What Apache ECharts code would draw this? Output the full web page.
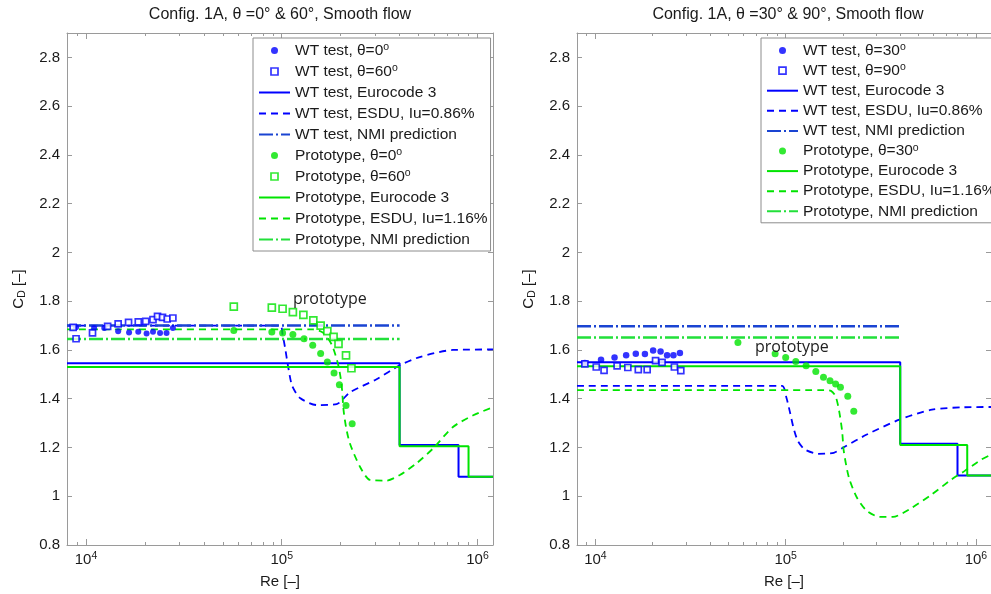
<!DOCTYPE html>
<html>
<head>
<meta charset="utf-8">
<script src="https://cdn.jsdelivr.net/npm/echarts@6/dist/echarts.min.js"></script>
<style>
  html, body { margin: 0; padding: 0; background: #fff; }
  #chart { width: 991px; height: 594px; }
</style>
</head>
<body>
<div id="chart"></div>
<script>
// ---- left panel: theta = 0 & 60 deg ----
const wtCirc0 = [[8.9e3,1.693],[1.10e4,1.690],[1.24e4,1.690],[1.46e4,1.677],[1.66e4,1.672],[1.85e4,1.675],[2.04e4,1.667],[2.20e4,1.675],[2.39e4,1.670],[2.58e4,1.670],[2.78e4,1.690]];
const wtSq60 = [[8.6e3,1.693],[8.9e3,1.646],[1.08e4,1.670],[1.29e4,1.697],[1.46e4,1.707],[1.65e4,1.713],[1.85e4,1.715],[2.02e4,1.717],[2.20e4,1.724],[2.32e4,1.738],[2.46e4,1.734],[2.60e4,1.727],[2.78e4,1.731]];
const wtEuroL = [[8e3,1.545],[4e5,1.545],[4e5,1.21],[8e5,1.21],[8e5,1.08],[1.2e6,1.08]];
const wtEsduL = [[8e3,1.70],[9.8e4,1.70],[1.01e5,1.663],[1.04e5,1.609],[1.08e5,1.528],[1.13e5,1.453],[1.24e5,1.403],[1.51e5,1.374],[1.91e5,1.378],[2.23e5,1.426],[3.05e5,1.48],[4.01e5,1.537],[5.07e5,1.571],[7.48e5,1.600],[1.2e6,1.602]];
const wtNmiL = [[8e3,1.70],[4e5,1.70]];
const prCirc0 = [[5.69e4,1.680],[8.9e4,1.674],[1.01e5,1.670],[1.14e5,1.663],[1.30e5,1.646],[1.44e5,1.619],[1.58e5,1.585],[1.71e5,1.551],[1.85e5,1.505],[1.97e5,1.457],[2.13e5,1.372],[2.29e5,1.297]];
const prSq60 = [[5.69e4,1.778],[8.9e4,1.774],[1.01e5,1.769],[1.14e5,1.755],[1.29e5,1.744],[1.45e5,1.721],[1.58e5,1.700],[1.71e5,1.677],[1.84e5,1.654],[1.95e5,1.625],[2.13e5,1.578],[2.27e5,1.525]];
const prEuroL = [[8e3,1.53],[4e5,1.53],[4e5,1.205],[9e5,1.205],[9e5,1.08],[1.2e6,1.08]];
const prEsduL = [[8e3,1.684],[1.45e5,1.684],[1.63e5,1.670],[1.80e5,1.622],[1.94e5,1.541],[2.02e5,1.460],[2.07e5,1.352],[2.13e5,1.284],[2.23e5,1.216],[2.51e5,1.121],[2.82e5,1.067],[3.43e5,1.064],[4.01e5,1.087],[4.88e5,1.135],[5.93e5,1.196],[7.49e5,1.284],[9.46e5,1.331],[1.2e6,1.365]];
const prNmiL = [[8e3,1.645],[4e5,1.645]];

// ---- right panel: theta = 30 & 90 deg ----
const wtCirc30 = [[8.8e3,1.546],[1.07e4,1.560],[1.26e4,1.569],[1.45e4,1.578],[1.63e4,1.584],[1.82e4,1.583],[2.01e4,1.598],[2.20e4,1.594],[2.38e4,1.578],[2.57e4,1.578],[2.78e4,1.587]];
const wtSq90 = [[8.8e3,1.543],[1.01e4,1.530],[1.11e4,1.516],[1.30e4,1.535],[1.48e4,1.528],[1.68e4,1.519],[1.87e4,1.519],[2.07e4,1.556],[2.24e4,1.549],[2.60e4,1.530],[2.81e4,1.515]];
const wtEuroR = [[8e3,1.55],[4e5,1.55],[4e5,1.215],[8e5,1.215],[8e5,1.085],[1.2e6,1.085]];
const wtEsduR = [[8e3,1.453],[9.55e4,1.453],[1.01e5,1.403],[1.05e5,1.349],[1.10e5,1.280],[1.16e5,1.226],[1.26e5,1.192],[1.48e5,1.174],[1.79e5,1.178],[2.02e5,1.201],[2.67e5,1.253],[3.96e5,1.314],[5.87e5,1.355],[8.7e5,1.365],[1.2e6,1.366]];
const wtNmiR = [[8e3,1.697],[4e5,1.697]];
const prCirc30 = [[5.61e4,1.631],[8.8e4,1.584],[1.0e5,1.569],[1.13e5,1.553],[1.28e5,1.535],[1.44e5,1.512],[1.58e5,1.488],[1.71e5,1.474],[1.83e5,1.460],[1.94e5,1.447],[2.12e5,1.410],[2.28e5,1.349]];
const prEuroR = [[8e3,1.533],[4e5,1.533],[4e5,1.21],[9e5,1.21],[9e5,1.085],[1.2e6,1.085]];
const prEsduR = [[8e3,1.435],[1.6e5,1.435],[1.73e5,1.432],[1.83e5,1.410],[1.91e5,1.349],[1.98e5,1.267],[2.02e5,1.185],[2.15e5,1.076],[2.37e5,0.994],[2.67e5,0.940],[3.12e5,0.915],[3.66e5,0.915],[4.46e5,0.946],[5.87e5,1.008],[7.44e5,1.069],[8.7e5,1.103],[1.07e6,1.151],[1.2e6,1.17]];
const prNmiR = [[8e3,1.651],[4e5,1.651]];

// axis ticks
const majorRe = [1e4, 1e5, 1e6];
const minorRe = [8e3, 9e3, 2e4, 3e4, 4e4, 5e4, 6e4, 7e4, 8e4, 9e4, 2e5, 3e5, 4e5, 5e5, 6e5, 7e5, 8e5, 9e5];
const cdTicks = [0.8, 1, 1.2, 1.4, 1.6, 1.8, 2, 2.2, 2.4, 2.6, 2.8];

const FONT = '"Liberation Sans", Arial, Helvetica, sans-serif';
const BLUE = '#0000ff', GREEN = '#00e400', NMI_BLUE = '#1a44d2', NMI_GREEN = '#22e03a';
const AXIS = '#9a9a9a', TXT = '#1a1a1a';
const SQUARE_ICON = 'path://M0,0H10V10H0Z';

const labels = {
  'L1': 'WT test, θ=0{s|o}', 'L2': 'WT test, θ=60{s|o}', 'L3': 'WT test, Eurocode 3',
  'L4': 'WT test, ESDU, Iu=0.86%', 'L5': 'WT test, NMI prediction',
  'L6': 'Prototype, θ=0{s|o}', 'L7': 'Prototype, θ=60{s|o}', 'L8': 'Prototype, Eurocode 3',
  'L9': 'Prototype, ESDU, Iu=1.16%', 'L10': 'Prototype, NMI prediction',
  'R1': 'WT test, θ=30{s|o}', 'R2': 'WT test, θ=90{s|o}', 'R3': 'WT test, Eurocode 3',
  'R4': 'WT test, ESDU, Iu=0.86%', 'R5': 'WT test, NMI prediction',
  'R6': 'Prototype, θ=30{s|o}', 'R7': 'Prototype, Eurocode 3',
  'R8': 'Prototype, ESDU, Iu=1.16%', 'R9': 'Prototype, NMI prediction'
};

function xAxesFor(gi) {
  const base = {
    gridIndex: gi, type: 'log', logBase: 10, min: 8e3, max: 1.2e6,
    splitLine: { show: false }, minorTick: { show: false },
    axisLine: { show: false, onZero: false, lineStyle: { color: AXIS, width: 1 } },
    axisLabel: { show: false }
  };
  const major = { inside: true, length: 6, customValues: majorRe, lineStyle: { color: AXIS } };
  const minor = { inside: true, length: 3, customValues: minorRe, lineStyle: { color: AXIS } };
  return [
    Object.assign({}, base, {
      position: 'bottom',
      axisLine: { show: true, onZero: false, lineStyle: { color: AXIS, width: 1 } },
      axisTick: major,
      axisLabel: {
        show: true, customValues: majorRe, margin: 6,
        formatter: v => '{b|10}{s|' + Math.round(Math.log10(v)) + '}',
        rich: {
          b: { fontFamily: FONT, fontSize: 15, color: TXT, lineHeight: 17 },
          s: { fontFamily: FONT, fontSize: 10.5, color: TXT, lineHeight: 8, verticalAlign: 'top' }
        }
      },
      name: 'Re [–]', nameLocation: 'middle', nameGap: 29,
      nameTextStyle: { fontFamily: FONT, fontSize: 15, color: TXT }
    }),
    Object.assign({}, base, { position: 'bottom', axisTick: minor }),
    Object.assign({}, base, {
      position: 'top',
      axisLine: { show: true, onZero: false, lineStyle: { color: AXIS, width: 1 } },
      axisTick: major
    }),
    Object.assign({}, base, { position: 'top', axisTick: minor })
  ];
}

function yAxesFor(gi) {
  const base = {
    gridIndex: gi, type: 'value', min: 0.8, max: 2.9,
    splitLine: { show: false },
    axisLine: { show: true, onZero: false, lineStyle: { color: AXIS, width: 1 } },
    axisTick: { inside: true, length: 5, customValues: cdTicks, lineStyle: { color: AXIS } }
  };
  return [
    Object.assign({}, base, {
      position: 'left',
      axisLabel: { customValues: cdTicks, margin: 7, fontFamily: FONT, fontSize: 15, color: TXT },
      name: '{c|C}{d|D}{c| [–]}', nameLocation: 'middle', nameGap: 39, nameRotate: 90,
      nameTextStyle: {
        rich: {
          c: { fontFamily: FONT, fontSize: 15, color: TXT, lineHeight: 18 },
          d: { fontFamily: FONT, fontSize: 10.5, color: TXT, lineHeight: 8, verticalAlign: 'bottom' }
        }
      }
    }),
    Object.assign({}, base, { position: 'right', axisLabel: { show: false } })
  ];
}

function dots(name, data, gi, color, size) {
  return { name, type: 'scatter', xAxisIndex: gi * 4, yAxisIndex: gi * 2, data,
    symbol: 'circle', symbolSize: size, itemStyle: { color }, z: 3 };
}
function squares(name, data, gi, color, size) {
  return { name, type: 'scatter', xAxisIndex: gi * 4, yAxisIndex: gi * 2, data,
    symbol: 'rect', symbolSize: size,
    itemStyle: { color: '#ffffff', borderColor: color, borderWidth: 1.7 }, z: 3 };
}
function curve(name, data, gi, color, width, type, smooth) {
  return { name, type: 'line', xAxisIndex: gi * 4, yAxisIndex: gi * 2, data,
    symbol: 'none', showSymbol: false, smooth: smooth || false,
    lineStyle: { color, width, type }, itemStyle: { color }, z: 2 };
}

const dashE = [7, 5];
const dashN = [14, 3, 2, 3];

const series = [
  dots('L1', wtCirc0, 0, BLUE, 6),
  squares('L2', wtSq60, 0, BLUE, 6),
  curve('L3', wtEuroL, 0, BLUE, 2, 'solid'),
  curve('L4', wtEsduL, 0, BLUE, 1.8, dashE, 0.25),
  curve('L5', wtNmiL, 0, NMI_BLUE, 2.6, dashN),
  dots('L6', prCirc0, 0, GREEN, 7),
  squares('L7', prSq60, 0, GREEN, 7),
  curve('L8', prEuroL, 0, GREEN, 2, 'solid'),
  curve('L9', prEsduL, 0, GREEN, 1.8, dashE, 0.25),
  curve('L10', prNmiL, 0, NMI_GREEN, 2.6, dashN),

  dots('R1', wtCirc30, 1, BLUE, 6.5),
  squares('R2', wtSq90, 1, BLUE, 6),
  curve('R3', wtEuroR, 1, BLUE, 2, 'solid'),
  curve('R4', wtEsduR, 1, BLUE, 1.8, dashE, 0.25),
  curve('R5', wtNmiR, 1, NMI_BLUE, 2.6, dashN),
  dots('R6', prCirc30, 1, GREEN, 7),
  curve('R7', prEuroR, 1, GREEN, 2, 'solid'),
  curve('R8', prEsduR, 1, GREEN, 1.8, dashE, 0.25),
  curve('R9', prNmiR, 1, NMI_GREEN, 2.6, dashN)
];

function legendData(keys) {
  return keys.map(k => {
    const s = series.find(x => x.name === k);
    if (s.type === 'line') return { name: k, itemStyle: { opacity: 0 } };
    if (s.symbol === 'rect') return { name: k, icon: SQUARE_ICON, itemStyle: { borderWidth: 1.7 } };
    return { name: k };
  });
}
function legendFor(left, gap, keys) {
  return {
    orient: 'vertical', left, top: 38,
    itemWidth: 31, itemHeight: 7, itemGap: gap,
    padding: [4, 3, 3, 5],
    backgroundColor: '#ffffff', borderColor: '#8c8c8c', borderWidth: 1,
    selectedMode: false,
    data: legendData(keys),
    formatter: n => labels[n],
    textStyle: {
      fontFamily: FONT, fontSize: 15.5, color: TXT, lineHeight: 17,
      rich: { s: { fontFamily: FONT, fontSize: 10.5, color: TXT, lineHeight: 8, verticalAlign: 'top' } }
    }
  };
}

const chart = echarts.init(document.getElementById('chart'));
chart.setOption({
  backgroundColor: '#ffffff',
  animation: false,
  grid: [
    { left: 67, top: 33, width: 426, height: 516 },
    { left: 577, top: 33, width: 422, height: 515 }
  ],
  xAxis: xAxesFor(0).concat(xAxesFor(1)),
  yAxis: yAxesFor(0).concat(yAxesFor(1)),
  legend: [
    legendFor(253, 4, ['L1','L2','L3','L4','L5','L6','L7','L8','L9','L10']),
    legendFor(761, 3.1, ['R1','R2','R3','R4','R5','R6','R7','R8','R9'])
  ],
  graphic: [
    { type: 'text', x: 280, y: 15, style: { text: 'Config. 1A, θ =0° & 60°, Smooth flow',
      font: '16px ' + FONT, fill: TXT, textAlign: 'center', textVerticalAlign: 'middle' } },
    { type: 'text', x: 788, y: 15, style: { text: 'Config. 1A, θ =30° & 90°, Smooth flow',
      font: '16px ' + FONT, fill: TXT, textAlign: 'center', textVerticalAlign: 'middle' } },
    { type: 'text', x: 293, y: 299, z: 10, style: { text: 'prototype',
      font: '16px "Open Sans", sans-serif', fill: '#222', textAlign: 'left', textVerticalAlign: 'middle' } },
    { type: 'text', x: 755, y: 347, z: 10, style: { text: 'prototype',
      font: '16px "Open Sans", sans-serif', fill: '#222', textAlign: 'left', textVerticalAlign: 'middle' } }
  ],
  series
});
window.addEventListener('resize', function () { chart.resize(); });
</script>
</body>
</html>
